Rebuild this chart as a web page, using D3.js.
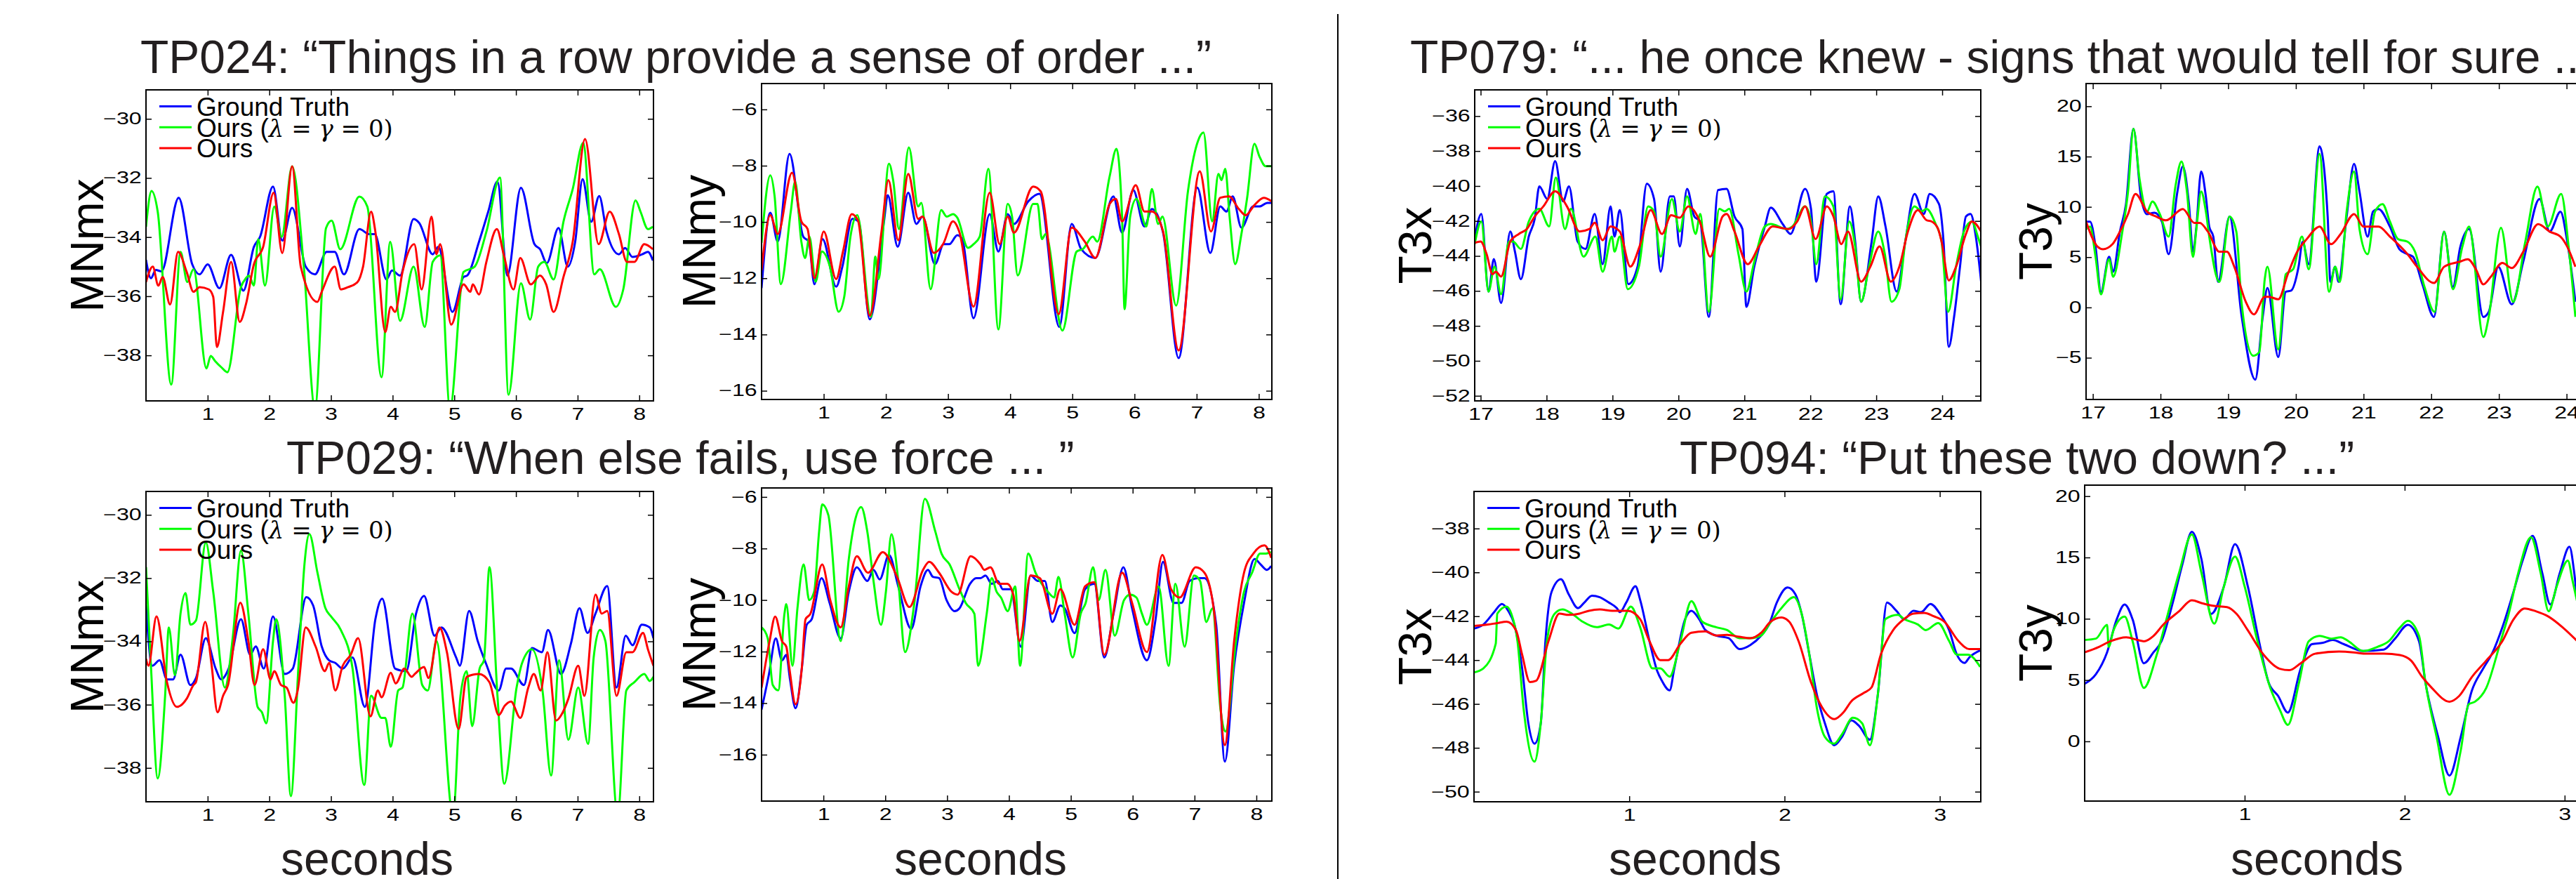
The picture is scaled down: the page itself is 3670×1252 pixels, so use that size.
<!DOCTYPE html>
<html>
<head>
<meta charset="utf-8">
<script src="https://cdn.jsdelivr.net/npm/d3@7"></script>
<style>
  body { margin: 0; background: #fff; }
  text { font-family: "Liberation Sans", Arial, Helvetica, sans-serif; }
</style>
</head>
<body>
<svg id="fig"></svg>
<script>
// ---- data: [seconds, value] ----
const tp024MNmxGT = [[0,-34.77],[0.08,-35.39],[0.16,-35.11],[0.25,-35.16],[0.53,-32.67],[0.75,-34.92],[0.87,-35.26],[1.0,-34.92],[1.19,-35.73],[1.38,-34.6],[1.58,-35.81],[1.75,-34.33],[1.85,-33.99],[2.06,-32.29],[2.21,-34.12],[2.37,-33.01],[2.59,-35.0],[2.74,-35.26],[2.93,-34.5],[3.06,-34.5],[3.21,-35.26],[3.46,-33.73],[3.62,-33.9],[3.71,-33.9],[3.9,-35.43],[3.99,-35.13],[4.12,-35.3],[4.34,-33.39],[4.43,-33.52],[4.65,-34.58],[4.74,-34.33],[4.97,-36.53],[5.15,-35.35],[5.21,-35.3],[5.4,-34.16],[5.55,-33.14],[5.7,-32.12],[5.86,-35.3],[6.08,-32.33],[6.3,-34.24],[6.39,-34.41],[6.5,-34.88],[6.69,-33.69],[6.84,-35.0],[6.96,-34.16],[7.08,-32.04],[7.22,-33.48],[7.35,-32.61],[7.47,-33.82],[7.67,-34.58],[7.77,-34.37],[7.89,-34.67],[8.05,-34.58],[8.14,-34.5],[8.22,-34.79]];
const tp024MNmxBase = [[0,-33.65],[0.09,-32.44],[0.19,-33.14],[0.41,-38.99],[0.56,-34.5],[0.67,-35.52],[0.77,-35.09],[0.98,-38.44],[1.05,-38.02],[1.12,-38.19],[1.22,-38.4],[1.32,-38.57],[1.54,-35.69],[1.62,-35.39],[1.67,-35.3],[1.75,-35.64],[1.82,-34.07],[1.93,-35.64],[2.08,-32.97],[2.2,-33.99],[2.37,-31.61],[2.56,-35.0],[2.74,-39.8],[2.92,-33.69],[3.01,-33.44],[3.15,-34.41],[3.46,-32.63],[3.59,-32.97],[3.82,-38.74],[3.96,-34.16],[4.12,-36.83],[4.34,-35.0],[4.52,-37.04],[4.65,-34.84],[4.77,-34.62],[4.93,-39.8],[5.15,-35.18],[5.33,-35.0],[5.52,-33.82],[5.74,-31.99],[5.88,-39.33],[6.08,-35.56],[6.23,-36.79],[6.36,-35.0],[6.46,-34.84],[6.61,-35.43],[6.77,-33.48],[6.92,-32.38],[7.09,-30.81],[7.27,-35.26],[7.36,-35.09],[7.62,-36.36],[7.74,-35.77],[7.94,-32.76],[8.02,-33.14],[8.14,-33.73],[8.22,-33.65]];
const tp024MNmxOurs = [[0,-35.52],[0.11,-35.0],[0.2,-35.64],[0.27,-35.35],[0.39,-36.28],[0.52,-34.5],[0.66,-35.18],[0.77,-35.85],[0.87,-35.69],[1.02,-35.77],[1.09,-36.02],[1.15,-37.72],[1.25,-36.53],[1.38,-34.84],[1.52,-36.87],[1.62,-36.28],[1.75,-34.92],[1.9,-34.33],[2.07,-32.5],[2.21,-34.54],[2.37,-31.61],[2.51,-35.0],[2.78,-36.19],[2.85,-35.85],[3.06,-35.0],[3.16,-35.77],[3.28,-35.69],[3.43,-35.52],[3.52,-35.0],[3.65,-33.14],[3.72,-33.82],[3.88,-37.21],[3.97,-36.36],[4.04,-36.53],[4.16,-35.18],[4.35,-34.24],[4.47,-35.77],[4.63,-33.31],[4.71,-34.58],[4.77,-34.24],[4.95,-36.96],[5.15,-35.6],[5.26,-35.85],[5.3,-35.6],[5.4,-35.94],[5.52,-34.84],[5.69,-33.73],[5.8,-34.58],[5.96,-35.77],[6.07,-34.71],[6.24,-35.6],[6.39,-35.3],[6.49,-35.6],[6.61,-36.53],[6.77,-35.35],[6.92,-34.16],[7.12,-30.68],[7.34,-34.24],[7.52,-33.14],[7.67,-33.9],[7.8,-34.84],[7.92,-34.84],[8.08,-34.24],[8.22,-34.41]];

const tp024MNmyGT = [[0,-12.35],[0.14,-9.67],[0.26,-10.7],[0.45,-7.58],[0.67,-10.52],[0.76,-10.7],[0.85,-12.21],[0.98,-10.61],[1.2,-12.3],[1.3,-11.59],[1.46,-9.89],[1.56,-9.98],[1.74,-13.46],[1.97,-9.98],[2.03,-9.05],[2.19,-10.88],[2.36,-8.96],[2.49,-10.07],[2.59,-9.81],[2.79,-11.5],[2.93,-10.79],[3.02,-10.79],[3.15,-10.47],[3.23,-10.61],[3.41,-13.42],[3.67,-9.72],[3.81,-11.05],[3.96,-9.72],[4.06,-10.07],[4.29,-9.27],[4.47,-9.0],[4.79,-13.73],[4.99,-10.07],[5.14,-10.96],[5.37,-11.28],[5.66,-9.09],[5.8,-10.38],[5.98,-8.87],[6.16,-10.16],[6.28,-9.54],[6.46,-10.38],[6.71,-14.84],[7.01,-8.78],[7.22,-11.1],[7.38,-9.45],[7.48,-9.63],[7.58,-9.09],[7.72,-10.2],[7.91,-9.45],[8.01,-9.45],[8.14,-9.32],[8.21,-9.32]];
const tp024MNmyBase = [[0,-10.74],[0.14,-8.34],[0.21,-9.09],[0.31,-12.21],[0.47,-9.63],[0.54,-8.56],[0.64,-10.7],[0.7,-11.28],[0.77,-10.52],[0.87,-12.12],[0.97,-11.05],[1.1,-11.59],[1.24,-13.19],[1.33,-12.66],[1.43,-10.52],[1.54,-9.76],[1.76,-13.37],[1.83,-11.23],[1.88,-12.03],[2.05,-7.93],[2.12,-8.56],[2.21,-10.25],[2.37,-7.35],[2.52,-9.45],[2.57,-9.32],[2.72,-12.39],[2.89,-9.58],[2.98,-9.81],[3.08,-9.72],[3.15,-9.85],[3.32,-10.92],[3.41,-10.79],[3.51,-10.52],[3.65,-8.11],[3.81,-13.82],[3.96,-9.36],[4.03,-9.81],[4.12,-11.9],[4.37,-9.36],[4.44,-9.36],[4.51,-10.61],[4.57,-10.43],[4.84,-13.86],[5.07,-11.05],[5.17,-10.96],[5.33,-10.52],[5.4,-10.7],[5.6,-8.38],[5.71,-7.4],[5.8,-9.81],[5.84,-13.1],[5.93,-9.81],[6.03,-9.18],[6.19,-10.16],[6.28,-8.83],[6.38,-10.07],[6.45,-9.81],[6.67,-12.97],[6.86,-8.91],[7.02,-7.13],[7.11,-6.82],[7.25,-9.98],[7.35,-8.29],[7.4,-8.51],[7.46,-8.11],[7.53,-9.81],[7.62,-11.5],[7.72,-10.43],[7.81,-9.18],[7.93,-7.22],[8.01,-7.67],[8.11,-8.02],[8.21,-8.02]];
const tp024MNmyOurs = [[0,-11.72],[0.14,-9.76],[0.26,-10.43],[0.49,-8.25],[0.64,-9.98],[0.74,-10.25],[0.85,-12.0],[1.0,-10.34],[1.2,-12.03],[1.31,-11.05],[1.45,-9.72],[1.55,-9.94],[1.74,-13.33],[1.93,-10.34],[2.04,-8.51],[2.2,-10.65],[2.36,-8.29],[2.52,-9.89],[2.59,-9.81],[2.77,-11.1],[2.92,-10.79],[3.08,-9.98],[3.18,-10.34],[3.41,-13.01],[3.67,-8.96],[3.83,-10.79],[3.96,-9.81],[4.06,-10.38],[4.37,-8.74],[4.49,-8.91],[4.78,-13.28],[4.99,-10.2],[5.2,-10.7],[5.37,-11.28],[5.6,-9.36],[5.7,-9.18],[5.8,-9.98],[6.02,-8.69],[6.16,-9.63],[6.28,-9.63],[6.46,-10.34],[6.71,-14.57],[7.05,-8.2],[7.23,-10.34],[7.38,-9.14],[7.52,-9.09],[7.68,-9.54],[7.79,-9.76],[7.93,-9.4],[8.08,-9.14],[8.21,-9.27]];

const tp029MNmxGT = [[0,-32.86],[0.1,-34.77],[0.22,-34.6],[0.34,-35.2],[0.44,-35.2],[0.56,-34.42],[0.72,-35.38],[0.81,-35.16],[0.97,-33.9],[1.13,-34.86],[1.22,-35.2],[1.34,-34.86],[1.54,-33.3],[1.69,-34.42],[1.78,-34.16],[1.91,-34.86],[2.06,-33.21],[2.25,-35.03],[2.38,-34.86],[2.6,-32.6],[2.71,-32.86],[2.85,-34.16],[2.97,-34.6],[3.07,-34.68],[3.19,-34.86],[3.35,-34.51],[3.55,-36.07],[3.72,-33.3],[3.83,-32.65],[4.04,-34.86],[4.22,-34.94],[4.38,-33.12],[4.51,-32.56],[4.68,-33.82],[4.79,-33.56],[5.03,-34.51],[5.09,-34.77],[5.24,-33.04],[5.38,-33.99],[5.51,-34.68],[5.72,-35.55],[5.84,-34.86],[5.92,-34.86],[6.13,-35.38],[6.26,-34.21],[6.42,-34.34],[6.52,-33.64],[6.73,-35.03],[6.89,-34.08],[7.03,-32.95],[7.16,-33.73],[7.29,-33.12],[7.48,-32.25],[7.63,-35.46],[7.78,-33.82],[7.89,-34.12],[8.04,-33.47],[8.17,-33.56],[8.23,-33.9]];
const tp029MNmxBase = [[0,-31.65],[0.08,-34.77],[0.19,-38.33],[0.31,-35.72],[0.37,-33.56],[0.47,-35.07],[0.56,-33.12],[0.64,-32.47],[0.72,-33.47],[0.81,-33.34],[0.97,-30.87],[1.09,-32.43],[1.28,-35.46],[1.41,-33.82],[1.54,-31.13],[1.66,-33.12],[1.81,-36.07],[1.88,-36.24],[1.95,-36.59],[2.06,-33.99],[2.11,-33.3],[2.25,-35.72],[2.35,-38.89],[2.47,-34.86],[2.57,-31.56],[2.65,-30.61],[2.78,-31.82],[2.91,-32.95],[3.0,-33.21],[3.16,-33.64],[3.35,-34.86],[3.54,-38.54],[3.65,-35.72],[3.82,-36.42],[3.88,-36.42],[3.97,-37.33],[4.09,-35.55],[4.16,-35.46],[4.32,-33.12],[4.48,-35.38],[4.57,-35.55],[4.71,-33.99],[4.98,-39.5],[5.1,-35.72],[5.2,-34.94],[5.29,-36.68],[5.41,-34.86],[5.48,-34.6],[5.57,-31.65],[5.7,-35.72],[5.81,-38.5],[6.01,-35.46],[6.1,-34.68],[6.26,-34.25],[6.43,-35.55],[6.57,-38.24],[6.7,-34.6],[6.85,-37.11],[7.01,-35.46],[7.17,-37.24],[7.26,-34.51],[7.36,-33.64],[7.45,-33.99],[7.65,-39.5],[7.79,-35.55],[7.92,-35.29],[8.08,-35.03],[8.17,-35.25],[8.23,-35.12]];
const tp029MNmxOurs = [[0,-34.55],[0.04,-34.77],[0.17,-33.21],[0.34,-35.29],[0.5,-36.07],[0.56,-36.03],[0.66,-35.81],[0.77,-35.38],[0.81,-35.29],[0.96,-33.38],[1.06,-34.68],[1.16,-36.24],[1.25,-35.72],[1.33,-35.38],[1.53,-32.78],[1.66,-33.99],[1.76,-35.38],[1.9,-34.25],[2.02,-35.2],[2.08,-34.94],[2.19,-35.38],[2.28,-35.46],[2.39,-35.94],[2.46,-35.55],[2.59,-33.56],[2.75,-34.16],[2.9,-34.94],[2.97,-34.68],[3.07,-35.55],[3.19,-34.77],[3.32,-34.42],[3.44,-33.9],[3.64,-36.37],[3.76,-35.55],[3.82,-35.77],[3.97,-34.99],[4.05,-35.33],[4.19,-34.86],[4.31,-35.12],[4.36,-35.03],[4.51,-34.81],[4.58,-35.16],[4.76,-33.56],[4.88,-34.34],[5.07,-36.77],[5.2,-35.12],[5.4,-35.03],[5.57,-35.29],[5.72,-36.33],[5.82,-36.03],[5.92,-35.9],[6.07,-36.42],[6.2,-35.46],[6.29,-35.03],[6.4,-35.55],[6.51,-34.34],[6.65,-36.5],[6.76,-36.24],[6.85,-35.81],[7.01,-34.77],[7.11,-35.72],[7.29,-32.52],[7.39,-33.12],[7.48,-33.04],[7.63,-35.72],[7.79,-34.34],[7.89,-34.34],[8.06,-33.73],[8.14,-34.25],[8.23,-34.77]];

const tp029MNmyGT = [[0,-14.25],[0.12,-12.87],[0.23,-11.49],[0.33,-12.34],[0.4,-12.13],[0.46,-13.08],[0.55,-14.2],[0.65,-12.66],[0.73,-10.96],[0.81,-10.75],[0.97,-9.15],[1.1,-10.11],[1.28,-11.49],[1.41,-9.68],[1.54,-8.73],[1.71,-9.26],[1.81,-8.83],[1.91,-9.2],[2.06,-8.25],[2.21,-9.47],[2.42,-11.12],[2.57,-9.47],[2.69,-8.83],[2.77,-9.1],[2.87,-9.15],[2.99,-10.0],[3.12,-10.43],[3.2,-10.32],[3.37,-9.37],[3.47,-9.15],[3.54,-9.15],[3.62,-9.05],[3.72,-9.37],[3.82,-9.26],[3.9,-9.58],[4.03,-9.58],[4.19,-11.81],[4.35,-9.05],[4.47,-9.26],[4.58,-9.26],[4.7,-10.85],[4.83,-10.21],[4.9,-10.32],[5.06,-11.28],[5.23,-9.58],[5.38,-9.37],[5.54,-12.23],[5.69,-10.53],[5.85,-8.73],[5.99,-10.32],[6.23,-12.34],[6.37,-10.75],[6.49,-8.52],[6.66,-10.11],[6.79,-10.11],[6.92,-9.26],[7.06,-9.15],[7.16,-9.15],[7.35,-10.96],[7.49,-16.27],[7.64,-12.55],[7.8,-10.11],[7.97,-8.41],[8.07,-8.62],[8.17,-8.83],[8.24,-8.68]];
const tp029MNmyBase = [[0,-11.06],[0.1,-11.49],[0.18,-13.29],[0.27,-13.5],[0.37,-10.53],[0.4,-10.16],[0.5,-12.55],[0.58,-10.32],[0.68,-8.62],[0.77,-10.0],[0.85,-9.68],[0.93,-7.35],[0.98,-6.29],[1.08,-6.71],[1.28,-11.59],[1.41,-8.41],[1.51,-6.92],[1.61,-6.39],[1.71,-7.35],[1.81,-9.26],[1.93,-10.96],[2.01,-9.68],[2.1,-7.45],[2.21,-9.26],[2.32,-12.02],[2.47,-10.11],[2.64,-6.07],[2.81,-7.35],[2.91,-8.2],[3.04,-8.62],[3.2,-9.58],[3.3,-10.11],[3.44,-10.53],[3.5,-12.55],[3.64,-10.53],[3.72,-9.15],[3.8,-9.68],[3.87,-9.9],[3.98,-10.43],[4.1,-9.47],[4.18,-12.55],[4.31,-8.2],[4.43,-8.94],[4.63,-9.68],[4.73,-9.9],[4.8,-9.1],[4.9,-10.53],[5.03,-12.23],[5.16,-10.53],[5.24,-10.11],[5.36,-8.73],[5.45,-10.0],[5.56,-8.83],[5.71,-11.38],[5.86,-10.0],[5.96,-9.79],[6.06,-9.9],[6.15,-10.53],[6.23,-10.96],[6.42,-9.47],[6.58,-12.55],[6.69,-9.37],[6.84,-11.81],[6.99,-9.05],[7.09,-9.26],[7.19,-10.85],[7.29,-10.32],[7.42,-14.25],[7.5,-15.1],[7.67,-11.59],[7.8,-9.68],[7.93,-8.94],[8.06,-8.2],[8.14,-8.2],[8.24,-8.14]];
const tp029MNmyOurs = [[0,-13.4],[0.13,-11.59],[0.22,-10.64],[0.33,-11.59],[0.4,-11.81],[0.45,-12.66],[0.55,-14.04],[0.65,-12.66],[0.71,-10.75],[0.79,-10.53],[0.98,-8.62],[1.11,-10.0],[1.28,-11.06],[1.41,-9.47],[1.54,-8.3],[1.72,-8.94],[1.96,-8.14],[2.19,-9.1],[2.39,-10.27],[2.61,-8.83],[2.71,-8.52],[2.87,-8.94],[3.07,-9.68],[3.17,-9.79],[3.38,-8.3],[3.54,-8.62],[3.6,-8.83],[3.7,-8.73],[3.84,-9.37],[3.97,-9.37],[4.07,-9.79],[4.17,-11.59],[4.35,-9.05],[4.5,-9.15],[4.7,-10.53],[4.83,-9.58],[5.06,-10.96],[5.23,-9.47],[5.38,-9.31],[5.54,-12.13],[5.83,-8.94],[5.99,-10.11],[6.23,-12.02],[6.48,-8.25],[6.62,-9.58],[6.76,-9.9],[7.02,-8.73],[7.16,-8.94],[7.32,-10.53],[7.49,-15.63],[7.64,-11.59],[7.8,-8.94],[7.95,-8.2],[8.13,-7.88],[8.24,-8.36]];

const tp079T3xGT = [[16.91,-43.03],[17.01,-41.6],[17.12,-46.04],[17.2,-44.18],[17.31,-46.69],[17.45,-42.6],[17.52,-43.75],[17.61,-45.33],[17.73,-42.89],[17.82,-41.88],[17.89,-40.02],[18.01,-40.74],[18.13,-38.58],[18.25,-40.88],[18.34,-40.02],[18.47,-43.17],[18.59,-43.6],[18.73,-41.6],[18.85,-44.47],[18.97,-41.17],[19.03,-42.89],[19.11,-41.38],[19.24,-45.61],[19.38,-44.61],[19.52,-39.87],[19.63,-40.74],[19.73,-44.9],[19.87,-40.59],[19.93,-40.59],[20.02,-43.46],[20.13,-40.16],[20.24,-41.74],[20.33,-42.03],[20.46,-47.48],[20.6,-40.23],[20.73,-40.16],[20.85,-41.74],[20.97,-42.46],[21.03,-46.91],[21.15,-44.61],[21.31,-42.31],[21.4,-41.24],[21.58,-42.17],[21.7,-42.74],[21.92,-40.16],[22.01,-41.31],[22.09,-45.47],[22.25,-40.45],[22.35,-40.3],[22.46,-46.76],[22.6,-41.17],[22.68,-43.17],[22.77,-46.62],[22.93,-43.17],[23.03,-40.59],[23.14,-42.31],[23.31,-46.04],[23.44,-43.17],[23.58,-40.45],[23.72,-41.6],[23.81,-40.45],[23.95,-41.02],[24.02,-43.17],[24.1,-49.2],[24.18,-47.48],[24.27,-44.61],[24.36,-41.74],[24.43,-41.6],[24.51,-42.89],[24.59,-45.47]];
const tp079T3xBase = [[16.91,-43.32],[17.01,-42.03],[17.12,-46.04],[17.21,-44.61],[17.31,-46.19],[17.43,-43.17],[17.49,-43.17],[17.61,-43.6],[17.73,-42.03],[17.89,-41.31],[18.04,-42.31],[18.14,-39.52],[18.28,-42.46],[18.37,-41.31],[18.56,-44.04],[18.74,-42.89],[18.85,-44.9],[18.99,-42.89],[19.03,-43.75],[19.11,-42.89],[19.23,-45.9],[19.4,-44.61],[19.54,-41.17],[19.63,-41.45],[19.73,-44.04],[19.9,-40.74],[20.02,-42.6],[20.13,-40.59],[20.26,-42.74],[20.33,-41.6],[20.46,-47.19],[20.62,-41.31],[20.7,-41.45],[20.77,-41.31],[20.91,-43.89],[21.03,-46.04],[21.15,-44.32],[21.31,-42.31],[21.4,-42.17],[21.64,-42.46],[21.73,-42.31],[21.92,-41.17],[22.01,-42.03],[22.09,-44.47],[22.22,-40.59],[22.35,-41.17],[22.46,-46.48],[22.59,-42.03],[22.68,-43.46],[22.77,-46.62],[22.89,-44.61],[23.03,-42.6],[23.13,-43.89],[23.23,-46.62],[23.35,-45.9],[23.44,-43.17],[23.58,-41.17],[23.69,-41.45],[23.76,-41.31],[23.9,-42.17],[23.99,-43.17],[24.09,-47.19],[24.21,-44.61],[24.33,-42.6],[24.45,-42.03],[24.54,-42.89],[24.59,-43.46]];
const tp079T3xOurs = [[16.91,-43.25],[17.0,-43.17],[17.09,-43.89],[17.18,-45.04],[17.23,-44.9],[17.31,-45.18],[17.45,-43.17],[17.58,-42.74],[17.7,-42.46],[17.82,-41.74],[17.95,-41.17],[18.13,-40.3],[18.31,-41.17],[18.5,-42.6],[18.65,-42.46],[18.73,-42.1],[18.85,-43.1],[18.97,-42.31],[19.11,-42.6],[19.27,-44.61],[19.41,-43.46],[19.58,-41.38],[19.75,-42.74],[19.89,-41.67],[20.02,-41.81],[20.15,-41.17],[20.33,-42.1],[20.48,-44.04],[20.67,-41.74],[20.73,-41.6],[20.85,-42.6],[21.05,-44.47],[21.22,-43.46],[21.43,-42.31],[21.55,-42.39],[21.67,-42.46],[21.8,-42.03],[21.92,-41.17],[22.08,-43.03],[22.25,-41.17],[22.35,-41.74],[22.47,-43.32],[22.57,-42.6],[22.77,-45.47],[22.91,-44.61],[23.05,-43.46],[23.22,-45.47],[23.35,-44.61],[23.48,-42.6],[23.63,-41.38],[23.76,-41.95],[23.84,-42.03],[23.93,-42.39],[23.99,-43.17],[24.1,-45.4],[24.21,-44.61],[24.36,-42.74],[24.45,-42.03],[24.59,-42.6]];

const tp079T3yGT = [[16.9,8.53],[16.96,8.53],[17.04,6.04],[17.12,1.56],[17.24,5.04],[17.3,3.55],[17.4,7.54],[17.49,10.28],[17.6,17.76],[17.71,11.03],[17.8,9.28],[17.91,9.41],[18.02,8.53],[18.12,5.29],[18.25,11.53],[18.33,14.02],[18.42,10.28],[18.48,5.54],[18.53,8.03],[18.6,13.52],[18.67,11.03],[18.72,8.03],[18.78,7.04],[18.85,2.55],[19.02,9.03],[19.2,-0.94],[19.4,-7.17],[19.51,-0.94],[19.58,1.93],[19.74,-4.93],[19.85,1.56],[19.93,1.68],[20.04,4.05],[20.1,6.54],[20.19,4.3],[20.35,16.01],[20.47,9.03],[20.51,2.55],[20.58,4.05],[20.63,2.55],[20.75,9.03],[20.86,14.27],[20.94,11.53],[21.06,7.04],[21.14,9.53],[21.22,9.78],[21.39,8.03],[21.53,5.79],[21.65,5.29],[21.73,5.04],[21.87,2.3],[22.04,-0.94],[22.19,7.54],[22.32,2.05],[22.43,6.04],[22.56,7.79],[22.77,-0.94],[22.85,-0.44],[22.99,4.05],[23.19,0.31],[23.36,4.55],[23.6,10.78],[23.75,7.54],[23.91,9.53],[24.01,6.54],[24.13,0.56]];
const tp079T3yBase = [[16.9,7.79],[16.96,8.03],[17.04,5.04],[17.12,1.31],[17.24,4.8],[17.3,3.05],[17.43,7.29],[17.52,11.53],[17.6,17.76],[17.69,12.77],[17.8,9.53],[17.88,10.53],[17.99,9.28],[18.12,7.04],[18.22,12.02],[18.31,14.52],[18.39,11.53],[18.48,5.04],[18.53,7.79],[18.6,11.53],[18.67,9.53],[18.72,7.04],[18.87,2.55],[19.02,9.03],[19.12,7.54],[19.2,0.31],[19.37,-4.8],[19.46,-4.43],[19.54,2.8],[19.58,4.05],[19.74,-4.18],[19.85,3.3],[19.96,3.8],[20.09,7.04],[20.19,3.8],[20.35,15.26],[20.49,1.56],[20.58,4.05],[20.65,2.55],[20.75,9.53],[20.86,13.52],[20.94,7.79],[21.06,5.29],[21.17,9.53],[21.28,10.28],[21.39,8.53],[21.51,6.79],[21.65,6.54],[21.76,5.54],[21.9,2.05],[22.05,-0.44],[22.19,7.54],[22.32,1.81],[22.46,6.04],[22.56,8.03],[22.77,-2.93],[22.85,-0.94],[23.03,7.91],[23.21,0.56],[23.39,6.54],[23.57,12.02],[23.72,8.03],[23.92,11.28],[24.03,6.04],[24.13,-0.94]];
const tp079T3yOurs = [[16.9,8.53],[17.07,6.04],[17.15,5.79],[17.29,6.29],[17.4,7.54],[17.52,9.28],[17.63,11.28],[17.8,9.53],[17.94,9.03],[18.08,8.66],[18.33,9.78],[18.5,8.41],[18.58,8.41],[18.7,7.54],[18.87,5.54],[18.98,5.54],[19.09,4.05],[19.26,0.56],[19.38,-0.69],[19.54,1.06],[19.6,1.06],[19.74,0.81],[19.88,3.3],[20.02,5.54],[20.16,6.79],[20.35,8.03],[20.52,6.29],[20.66,7.29],[20.86,9.28],[21.0,8.03],[21.22,8.03],[21.39,7.04],[21.65,5.29],[21.79,4.05],[22.04,2.43],[22.19,4.05],[22.42,4.55],[22.54,4.8],[22.66,3.8],[22.77,2.3],[22.88,3.05],[23.05,4.42],[23.19,3.92],[23.36,5.54],[23.58,8.28],[23.75,7.54],[23.91,7.04],[24.01,6.04],[24.13,4.05]];

const tp094T3xGT = [[0,-42.56],[0.06,-42.38],[0.13,-41.81],[0.18,-41.44],[0.22,-41.75],[0.26,-42.38],[0.31,-44.38],[0.35,-46.88],[0.39,-47.81],[0.43,-46.88],[0.46,-43.13],[0.5,-40.88],[0.56,-40.31],[0.61,-41.0],[0.67,-41.63],[0.71,-41.38],[0.76,-41.06],[0.81,-41.13],[0.87,-41.38],[0.92,-41.63],[0.94,-41.81],[0.98,-41.38],[1.04,-40.63],[1.07,-41.25],[1.13,-43.13],[1.18,-44.5],[1.21,-44.94],[1.26,-45.38],[1.29,-44.38],[1.36,-42.13],[1.4,-41.75],[1.45,-42.13],[1.49,-42.63],[1.56,-42.88],[1.64,-43.0],[1.71,-43.5],[1.78,-43.31],[1.85,-42.88],[1.9,-42.38],[1.95,-41.38],[2.02,-40.69],[2.07,-41.0],[2.11,-41.88],[2.16,-43.75],[2.21,-45.63],[2.26,-46.88],[2.32,-47.88],[2.37,-47.5],[2.43,-46.75],[2.48,-47.0],[2.55,-47.63],[2.6,-45.63],[2.66,-41.38],[2.72,-41.75],[2.77,-42.13],[2.83,-41.75],[2.88,-41.81],[2.94,-41.44],[3.0,-41.88],[3.06,-42.63],[3.11,-43.75],[3.16,-44.13],[3.19,-43.88],[3.26,-43.56]];
const tp094T3xBase = [[0,-44.56],[0.06,-44.38],[0.14,-43.25],[0.15,-41.88],[0.21,-41.56],[0.24,-41.88],[0.28,-43.13],[0.32,-46.25],[0.39,-48.63],[0.43,-46.88],[0.47,-43.13],[0.52,-41.88],[0.57,-41.69],[0.63,-41.88],[0.7,-42.25],[0.79,-42.5],[0.87,-42.38],[0.93,-42.56],[1.01,-41.56],[1.07,-42.5],[1.15,-44.38],[1.2,-44.38],[1.26,-44.75],[1.33,-43.13],[1.4,-41.31],[1.47,-42.25],[1.56,-42.5],[1.63,-42.63],[1.71,-43.0],[1.78,-43.0],[1.85,-42.88],[1.9,-42.38],[1.98,-41.63],[2.06,-41.13],[2.11,-41.88],[2.16,-43.75],[2.21,-46.25],[2.26,-47.5],[2.32,-47.81],[2.37,-47.38],[2.44,-46.63],[2.5,-46.88],[2.55,-47.88],[2.6,-45.63],[2.65,-42.13],[2.73,-41.94],[2.77,-42.13],[2.86,-42.38],[2.91,-42.63],[2.99,-42.31],[3.06,-43.13],[3.11,-43.75],[3.18,-43.75],[3.26,-44.31]];
const tp094T3xOurs = [[0,-42.44],[0.09,-42.38],[0.15,-42.31],[0.21,-42.25],[0.27,-42.63],[0.31,-43.75],[0.36,-45.0],[0.4,-44.94],[0.48,-43.13],[0.55,-41.88],[0.61,-41.94],[0.68,-41.88],[0.74,-41.75],[0.81,-41.69],[0.89,-41.75],[0.99,-41.75],[1.07,-42.13],[1.13,-43.13],[1.2,-44.0],[1.25,-44.0],[1.33,-43.25],[1.4,-42.75],[1.49,-42.69],[1.56,-42.88],[1.63,-42.85],[1.71,-42.94],[1.78,-43.0],[1.85,-42.75],[1.91,-42.25],[1.98,-42.06],[2.03,-42.25],[2.09,-43.13],[2.17,-45.0],[2.24,-46.13],[2.32,-46.69],[2.38,-46.38],[2.43,-45.88],[2.51,-45.5],[2.56,-45.25],[2.62,-43.75],[2.7,-42.63],[2.77,-42.13],[2.83,-41.88],[2.9,-41.85],[2.96,-42.0],[3.03,-42.25],[3.12,-43.13],[3.19,-43.5],[3.26,-43.5]];

const tp094T3yGT = [[0,4.69],[0.07,5.47],[0.14,7.26],[0.2,9.94],[0.25,11.17],[0.3,9.94],[0.37,6.37],[0.43,7.26],[0.48,8.16],[0.55,11.28],[0.61,14.41],[0.67,17.09],[0.73,14.86],[0.79,10.39],[0.87,12.63],[0.94,16.09],[1.02,12.63],[1.09,8.16],[1.15,4.8],[1.21,3.69],[1.27,2.35],[1.35,5.92],[1.42,7.93],[1.49,8.04],[1.55,8.27],[1.62,7.93],[1.74,7.37],[1.87,7.49],[1.94,8.38],[2.02,9.5],[2.09,8.16],[2.13,4.8],[2.21,0.34],[2.28,-2.79],[2.35,0.34],[2.42,4.13],[2.49,5.92],[2.55,7.26],[2.61,9.27],[2.68,12.18],[2.74,14.86],[2.8,16.76],[2.86,13.74],[2.91,11.17],[2.97,13.74],[3.03,15.87],[3.06,13.74],[3.08,11.28]];
const tp094T3yBase = [[0,8.27],[0.07,8.38],[0.14,9.5],[0.15,7.71],[0.18,9.05],[0.25,10.17],[0.3,8.16],[0.37,4.36],[0.45,7.04],[0.52,10.39],[0.59,13.74],[0.67,16.87],[0.73,13.74],[0.81,9.6],[0.87,12.63],[0.94,15.08],[1.0,12.63],[1.08,8.16],[1.16,4.36],[1.22,2.57],[1.27,1.34],[1.34,4.8],[1.4,8.16],[1.47,8.6],[1.54,8.38],[1.6,8.49],[1.65,8.16],[1.74,7.37],[1.83,7.71],[1.9,8.16],[1.97,9.27],[2.02,9.83],[2.09,8.6],[2.13,4.8],[2.2,0.34],[2.28,-4.36],[2.35,-0.78],[2.4,3.02],[2.44,3.24],[2.51,4.36],[2.6,8.16],[2.65,10.39],[2.71,13.74],[2.79,16.65],[2.85,13.74],[2.9,10.61],[2.95,12.63],[3.02,14.75],[3.05,13.07],[3.08,11.28]];
const tp094T3yOurs = [[0,7.26],[0.09,7.71],[0.16,8.16],[0.26,8.49],[0.33,8.27],[0.37,8.16],[0.43,8.6],[0.49,9.5],[0.59,10.61],[0.67,11.51],[0.73,11.28],[0.8,11.06],[0.89,10.95],[0.95,10.39],[1.02,9.05],[1.12,7.04],[1.22,5.92],[1.28,5.81],[1.35,6.37],[1.44,7.15],[1.59,7.33],[1.68,7.26],[1.75,7.15],[1.87,7.15],[1.97,7.04],[2.04,6.59],[2.11,5.25],[2.17,4.36],[2.28,3.24],[2.34,3.69],[2.42,5.25],[2.51,6.59],[2.61,8.16],[2.68,9.94],[2.75,10.84],[2.82,10.61],[2.9,10.17],[2.99,9.27],[3.08,8.16]];

// tick values
const ticksSec8 = [1,2,3,4,5,6,7,8];
const ticksSec17 = [17,18,19,20,21,22,23,24];
const ticksSec3 = [1,2,3];
const ticksMNmx = [-38,-36,-34,-32,-30];
const ticksMNmy = [-16,-14,-12,-10,-8,-6];
const ticksT3xA = [-52,-50,-48,-46,-44,-42,-40,-38,-36];
const ticksT3xB = [-50,-48,-46,-44,-42,-40,-38];
const ticksT3y = [-5,0,5,10,15,20];
const ticksT3yB = [0,5,10,15,20];

const titles = [
  {text: "TP024: \u201cThings in a row provide a sense of order ...\u201d", x: 200, y: 104},
  {text: "TP029: \u201cWhen else fails, use force ... \u201d", x: 408, y: 675},
  {text: "TP079: \u201c... he once knew - signs that would tell for sure ...\u201d", x: 2009, y: 104},
  {text: "TP094: \u201cPut these two down? ...\u201d", x: 2393, y: 675}
];

const W = 3670, H = 1252;
const colors = {gt: "#0000ff", base: "#00ff00", ours: "#ff0000"};

const panels = [
  {left: 208, right: 931, top: 128, bottom: 571, xd: [0, 8.23], yd: [-39.54, -29.02], xt: ticksSec8, yt: ticksMNmx,
   ylabel: "MNmx", lblX: 147, legend: true, series: [tp024MNmxGT, tp024MNmxBase, tp024MNmxOurs]},
  {left: 1085, right: 1812, top: 119, bottom: 569, xd: [0, 8.21], yd: [-16.31, -5.08], xt: ticksSec8, yt: ticksMNmy,
   ylabel: "MNmy", lblX: 1019, series: [tp024MNmyGT, tp024MNmyBase, tp024MNmyOurs]},
  {left: 208, right: 931, top: 700, bottom: 1142, xd: [0, 8.23], yd: [-39.07, -29.26], xt: ticksSec8, yt: ticksMNmx,
   ylabel: "MNmx", lblX: 147, legend: true, xlabelX: 523, series: [tp029MNmxGT, tp029MNmxBase, tp029MNmxOurs]},
  {left: 1085, right: 1812, top: 695, bottom: 1141, xd: [0, 8.25], yd: [-17.8, -5.65], xt: ticksSec8, yt: ticksMNmy,
   ylabel: "MNmy", lblX: 1019, xlabelX: 1397, series: [tp029MNmyGT, tp029MNmyBase, tp029MNmyOurs]},
  {left: 2101, right: 2822, top: 128, bottom: 571, xd: [16.91, 24.585], yd: [-52.29, -34.5], xt: ticksSec17, yt: ticksT3xA,
   ylabel: "T3x", lblX: 2039, legend: true, series: [tp079T3xGT, tp079T3xBase, tp079T3xOurs]},
  {left: 2972, right: 3713, top: 119, bottom: 569, xd: [16.9, 24.585], yd: [-9.15, 22.26], xt: ticksSec17, yt: ticksT3y,
   ylabel: "T3y", lblX: 2923, series: [tp079T3yGT, tp079T3yBase, tp079T3yOurs]},
  {left: 2100, right: 2822, top: 700, bottom: 1142, xd: [0, 3.264], yd: [-50.46, -36.31], xt: ticksSec3, yt: ticksT3xB,
   ylabel: "T3x", lblX: 2039, legend: true, xlabelX: 2415, series: [tp094T3xGT, tp094T3xBase, tp094T3xOurs]},
  {left: 2970, right: 3714, top: 691, bottom: 1141, xd: [0, 3.264], yd: [-4.87, 20.9], xt: ticksSec3, yt: ticksT3yB,
   ylabel: "T3y", lblX: 2923, xlabelX: 3301, series: [tp094T3yGT, tp094T3yBase, tp094T3yOurs]}
];

const svg = d3.select("#fig").attr("width", W).attr("height", H);
svg.append("rect").attr("width", W).attr("height", H).attr("fill", "#fff");
const defs = svg.append("defs");

// separator between the two halves
svg.append("line")
  .attr("x1", 1906).attr("x2", 1906).attr("y1", 20).attr("y2", H)
  .attr("stroke", "#000").attr("stroke-width", 2);

titles.forEach(t => {
  svg.append("text").attr("x", t.x).attr("y", t.y)
    .attr("font-size", 66).attr("fill", "#231f20").text(t.text);
});

// tick labels in the figure are drawn wide: 23px glyphs stretched 1.4x
function styleAxis(a) {
  a.select(".domain").remove();
  a.selectAll("line").attr("stroke", "#000").attr("stroke-width", 1.5);
  a.selectAll("text").attr("font-size", 23).attr("fill", "#000")
    .attr("font-family", "'Liberation Sans', Arial, sans-serif")
    .attr("transform", "scale(1.4,1)");
}

panels.forEach((p, i) => {
  const x = d3.scaleLinear().domain(p.xd).range([p.left, p.right]);
  const y = d3.scaleLinear().domain(p.yd).range([p.bottom, p.top]);
  const g = svg.append("g");

  defs.append("clipPath").attr("id", "clip" + i)
    .append("rect").attr("x", p.left).attr("y", p.top)
    .attr("width", p.right - p.left).attr("height", p.bottom - p.top);

  const line = d3.line().x(d => x(d[0])).y(d => y(d[1])).curve(d3.curveMonotoneX);
  const lg = g.append("g").attr("clip-path", `url(#clip${i})`);
  ["gt", "base", "ours"].forEach((k, j) => {
    lg.append("path").datum(p.series[j])
      .attr("fill", "none").attr("stroke", colors[k])
      .attr("stroke-width", 3).attr("stroke-linejoin", "round")
      .attr("d", line);
  });

  // axes, ticks pointing in on all four sides
  const fmt = d3.format("d");
  styleAxis(g.append("g").attr("transform", `translate(0,${p.bottom})`)
    .call(d3.axisBottom(x).tickValues(p.xt).tickSizeInner(-8).tickSizeOuter(0).tickPadding(11).tickFormat(fmt)));
  styleAxis(g.append("g").attr("transform", `translate(0,${p.top})`)
    .call(d3.axisTop(x).tickValues(p.xt).tickSizeInner(-8).tickSizeOuter(0).tickFormat("")));
  styleAxis(g.append("g").attr("transform", `translate(${p.left},0)`)
    .call(d3.axisLeft(y).tickValues(p.yt).tickSizeInner(-8).tickSizeOuter(0).tickPadding(4.5).tickFormat(fmt)));
  styleAxis(g.append("g").attr("transform", `translate(${p.right},0)`)
    .call(d3.axisRight(y).tickValues(p.yt).tickSizeInner(-8).tickSizeOuter(0).tickFormat("")));

  g.append("rect").attr("x", p.left).attr("y", p.top)
    .attr("width", p.right - p.left).attr("height", p.bottom - p.top)
    .attr("fill", "none").attr("stroke", "#000").attr("stroke-width", 2);

  // y label
  g.append("text")
    .attr("transform", `translate(${p.lblX},${(p.top + p.bottom) / 2}) rotate(-90)`)
    .attr("text-anchor", "middle").attr("font-size", 66).attr("fill", "#000")
    .text(p.ylabel);

  // x label only on bottom row
  if (p.xlabelX) {
    g.append("text").attr("x", p.xlabelX).attr("y", 1246)
      .attr("text-anchor", "middle").attr("font-size", 66).attr("fill", "#231f20")
      .text("seconds");
  }

  if (p.legend) {
    const L = g.append("g");
    ["gt", "base", "ours"].forEach((k, j) => {
      const ly = p.top + 23.5 + j * 29.7;
      L.append("line").attr("x1", p.left + 19).attr("x2", p.left + 65)
        .attr("y1", ly).attr("y2", ly)
        .attr("stroke", colors[k]).attr("stroke-width", 3);
      const t = L.append("text").attr("x", p.left + 72).attr("y", ly + 13.5)
        .attr("font-size", 37).attr("fill", "#000");
      if (k === "gt") t.text("Ground Truth");
      else if (k === "ours") t.text("Ours");
      else {
        t.append("tspan").text("Ours (");
        t.append("tspan").attr("font-family", "'DejaVu Serif', serif").attr("font-style", "italic").attr("font-size", 34).text("\u03bb");
        t.append("tspan").attr("font-family", "'DejaVu Serif', serif").attr("font-size", 34).text(" = ");
        t.append("tspan").attr("font-family", "'DejaVu Serif', serif").attr("font-style", "italic").attr("font-size", 34).text("\u03b3");
        t.append("tspan").attr("font-family", "'DejaVu Serif', serif").attr("font-size", 34).text(" = 0)");
      }
    });
  }
});
</script>
</body>
</html>
